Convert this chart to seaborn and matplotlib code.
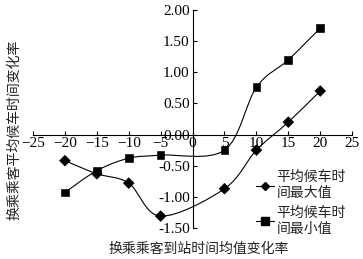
import matplotlib
matplotlib.use('Agg')
import matplotlib.pyplot as plt
import numpy as np
import seaborn as sns
import pandas as pd
from matplotlib.path import Path
from matplotlib.patches import PathPatch
from matplotlib.lines import Line2D

x_vals = [-20, -15, -10, -5, 5, 10, 15, 20]
max_vals = [-0.42, -0.63, -0.78, -1.31, -0.87, -0.25, 0.20, 0.70]
min_vals = [-0.93, -0.58, -0.38, -0.33, -0.25, 0.76, 1.20, 1.71]
labels = ['平均候车时\n间最大值', '平均候车时\n间最小值']
x_ticks = [-25, -20, -15, -10, -5, 0, 5, 10, 15, 20, 25]
y_ticks = [-1.5, -1.0, -0.5, 0.0, 0.5, 1.0, 1.5, 2.0]

sns.set_style('white')
plt.rcParams['font.family'] = ['Liberation Serif', 'Noto Sans CJK SC']

df = pd.DataFrame({'x': x_vals * 2,
                   'y': max_vals + min_vals,
                   's': [labels[0]] * len(x_vals) + [labels[1]] * len(x_vals)})

fig = plt.figure(figsize=(3.63, 2.59), dpi=100)
ax = fig.add_axes([0.091, 0.12, 0.879, 0.841])


def smooth_path(xs, ys):
    # catmull-rom style bezier through the points (like excel smoothed line)
    pts = np.column_stack([xs, ys]).astype(float)
    verts = [pts[0]]
    codes = [Path.MOVETO]
    n = len(pts)
    for i in range(n - 1):
        p0 = pts[i - 1] if i > 0 else pts[i]
        p1 = pts[i]
        p2 = pts[i + 1]
        p3 = pts[i + 2] if i + 2 < n else pts[i + 1]
        c1 = p1 + (p2 - p0) / 6
        c2 = p2 - (p3 - p1) / 6
        verts += [c1, c2, p2]
        codes += [Path.CURVE4] * 3
    return Path(verts, codes)


for yv in [max_vals, min_vals]:
    ax.add_patch(PathPatch(smooth_path(x_vals, yv), fill=False, lw=0.8, color='black', zorder=2))

sns.scatterplot(data=df, x='x', y='y', style='s', markers=['D', 's'],
                color='black', s=30, edgecolor='black', legend=False, ax=ax, zorder=3)

ax.set_xlim(-25, 25)
ax.set_ylim(-1.5, 2.0)
ax.spines['left'].set_position(('data', 0))
ax.spines['bottom'].set_position(('data', 0))
ax.spines['top'].set_visible(False)
ax.spines['right'].set_visible(False)
for sp in ['left', 'bottom']:
    ax.spines[sp].set_color('black')
    ax.spines[sp].set_linewidth(0.8)
ax.set_xticks(x_ticks)
ax.set_yticks(y_ticks)
ax.set_yticklabels(['%.2f' % v for v in y_ticks])
ax.tick_params(axis='both', direction='in', length=3, width=0.8, labelsize=11,
               colors='black', pad=2, left=True, bottom=True)
ax.set_xlabel('')
ax.set_ylabel('')

fig.text(0.548, 0.04, '换乘乘客到站时间均值变化率', ha='center', va='center', fontsize=10,
         family=['Noto Sans CJK SC'], color='#222222')
fig.text(0.04, 0.5, '换乘乘客平均候车时间变化率', ha='center', va='center', fontsize=10,
         rotation=90, family=['Noto Sans CJK SC'], color='#222222')

handles = [Line2D([], [], color='black', lw=0.8, marker='D', markersize=4),
           Line2D([], [], color='black', lw=0.8, marker='s', markersize=5.5)]
leg = ax.legend(handles, labels, loc='upper left', bbox_to_anchor=(0.685, 0.37),
                bbox_transform=fig.transFigure, frameon=False, handlelength=1.3,
                handletextpad=0.2, labelspacing=0.45, borderpad=0,
                prop={'family': 'Noto Sans CJK SC', 'size': 10})
for t in leg.get_texts():
    t.set_color('#222222')
    t.set_linespacing(1.15)

fig.savefig('out.png', dpi=100)
